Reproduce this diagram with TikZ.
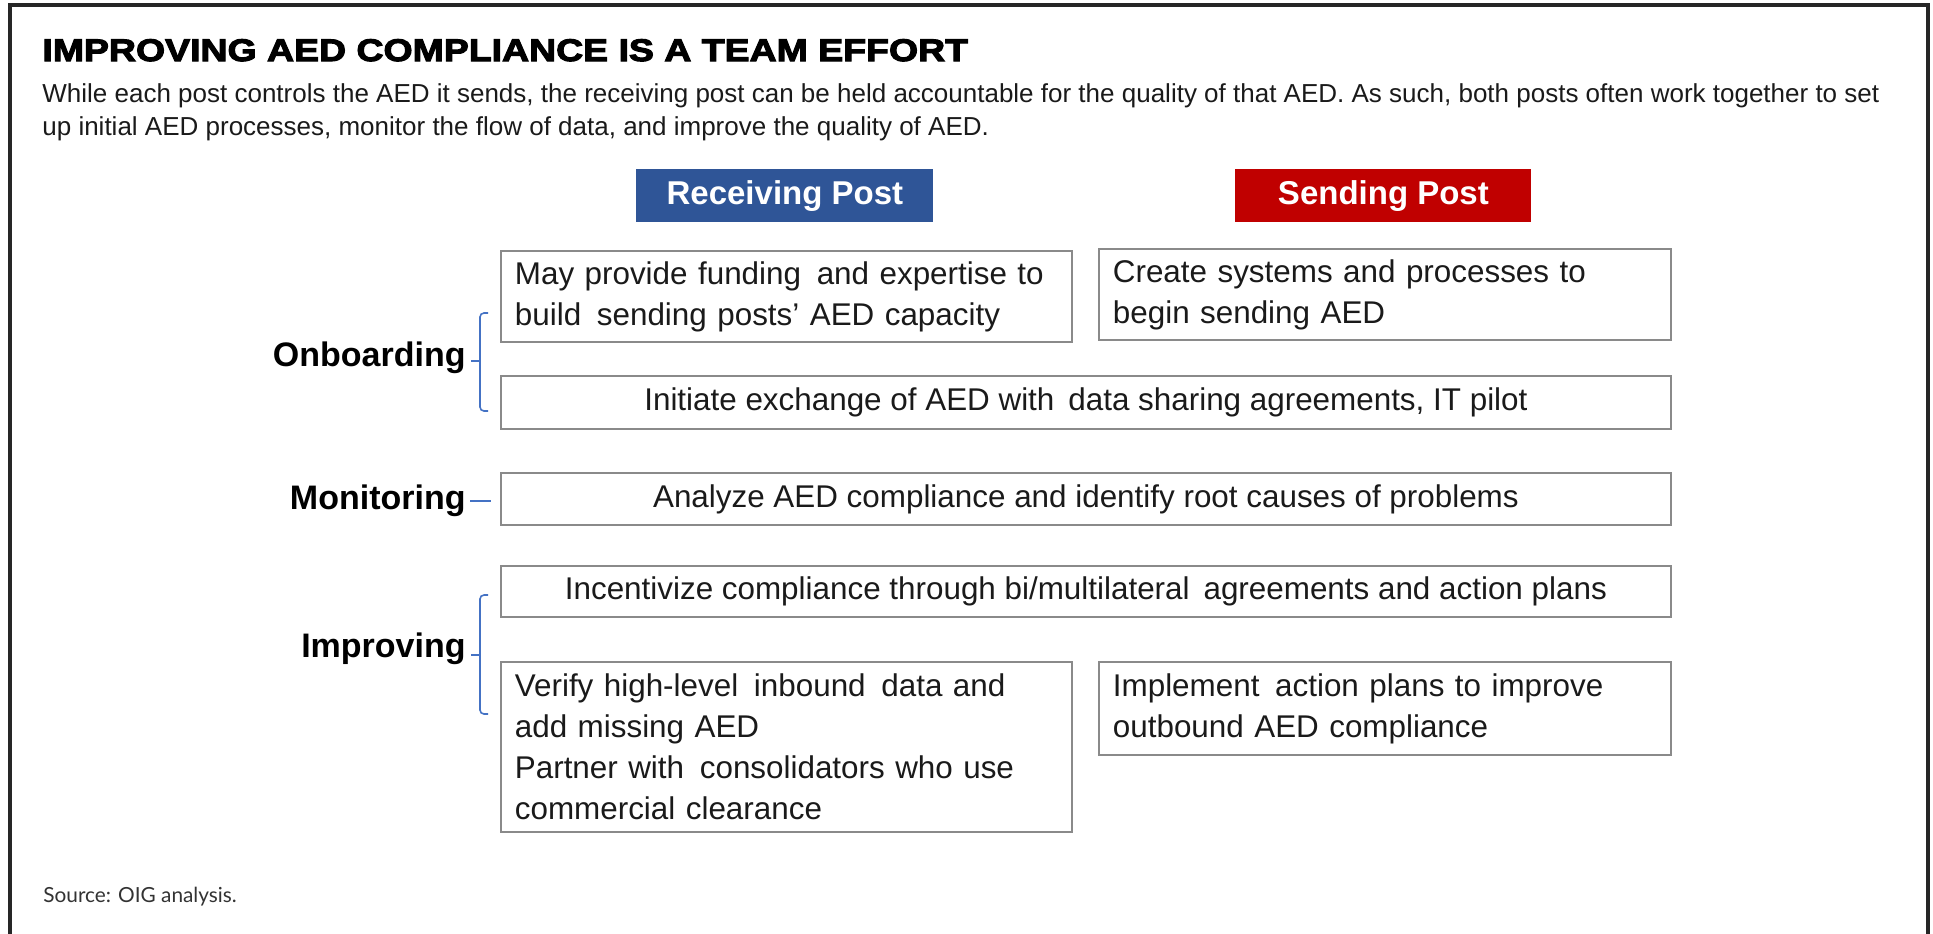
\documentclass[tikz,border=0pt]{standalone}
\usepackage{fontspec}
\setmainfont{Liberation Sans}
\newfontfamily\titlefont{Liberation Sans}[FakeStretch=1.2,BoldFeatures={FakeBold=3.5}]
\newfontfamily\srcfont{Lato}
\definecolor{recblue}{HTML}{2F5597}
\definecolor{sendred}{HTML}{C00000}
\definecolor{brkblue}{HTML}{4472C4}
\definecolor{boxgray}{HTML}{8A8A8A}
\definecolor{txtdark}{HTML}{1A1A1A}
\tikzset{
  frameline/.style={draw=black!85, line width=1.6pt},
  txtbox/.style={draw=boxgray, line width=0.9pt, inner sep=0pt, anchor=north west,
    font=\fontsize{15.7}{20.5}\selectfont, text=txtdark},
  hdrbox/.style={inner sep=0pt, anchor=north west, text=white,
    font=\fontsize{16.5}{20}\selectfont\bfseries, minimum width=148.5pt, minimum height=26.5pt},
  phase/.style={anchor=base east, inner sep=0pt, font=\fontsize{17}{20}\selectfont\bfseries, text=black},
  subline/.style={anchor=base west, inner sep=0pt, text=txtdark, font=\fontsize{13.0}{16.5}\selectfont},
  brk/.style={draw=brkblue, line width=0.8pt, rounded corners=2pt},
}
\begin{document}
\begin{tikzpicture}[x=0.5pt,y=-0.5pt]
\useasboundingbox (0,0) rectangle (1933,933);
\fill[white] (0,0) rectangle (1933,933);
\draw[frameline] (10,945) -- (10,5) -- (1928,5) -- (1928,945);

\node[anchor=base west, inner sep=0pt, font=\titlefont\bfseries\fontsize{15.6}{18}\selectfont] (title) at (42,61)
  {IMPROVING AED COMPLIANCE IS A TEAM EFFORT};
\node[subline] (sub1) at (42,102)
  {While each post controls the AED it sends, the receiving post can be held accountable for the quality of that AED. As such, both posts often work together to set};
\node[subline] (sub2) at (42,135)
  {up initial AED processes, monitor the flow of data, and improve the quality of AED.};

\node[hdrbox, fill=recblue] (rec) at (636,169) {Receiving Post};
\node[hdrbox, fill=sendred, minimum width=148pt] (send) at (1235,169) {Sending Post};

\node[txtbox, minimum width=285.5pt, minimum height=45.5pt, text width=271.5pt, align=left] (a) at (500,250)
  {May provide funding\ \,and expertise to\\build\ \,sending posts’ AED capacity};
\node[txtbox, minimum width=286pt, minimum height=45.5pt, text width=272pt, align=left] (b) at (1098,248)
  {Create systems and processes to\\begin sending AED};
\node[txtbox, minimum width=585pt, minimum height=26.5pt, align=center] (c) at (500,375)
  {Initiate exchange of AED with\ \,data sharing agreements, IT pilot};
\node[txtbox, minimum width=585pt, minimum height=26pt, align=center] (d) at (500,472)
  {Analyze AED compliance and identify root causes of problems};
\node[txtbox, minimum width=585pt, minimum height=25.5pt, align=center] (e) at (500,565)
  {Incentivize compliance through bi/multilateral\ \,agreements and action plans};
\node[txtbox, minimum width=285.5pt, minimum height=85pt, text width=271.5pt, align=left] (f) at (500,661)
  {Verify high-level\ \,inbound\ \,data and\\add missing AED\\Partner with\ \,consolidators who use\\commercial clearance};
\node[txtbox, minimum width=286pt, minimum height=46.5pt, text width=272pt, align=left] (g) at (1098,661)
  {Implement\ \,action plans to improve\\outbound AED compliance};

\node[phase] (onb) at (466,366) {Onboarding};
\node[phase] (mon) at (466,509) {Monitoring};
\node[phase] (imp) at (466,657) {Improving};

\coordinate (ob1) at (488,313);
\coordinate (ob2) at (488,411);
\coordinate (obt) at (471,361);
\draw[brk] (ob1) -| (480,361) |- (ob2);
\draw[brk] (obt) -- (480,361);

\coordinate (mo1) at (470,501);
\coordinate (mo2) at (491,501);
\draw[draw=brkblue, line width=0.8pt] (mo1) -- (mo2);

\coordinate (im1) at (488,595);
\coordinate (im2) at (488,714);
\coordinate (imt) at (471,655);
\draw[brk] (im1) -| (480,655) |- (im2);
\draw[brk] (imt) -- (480,655);

\node[anchor=base west, inner sep=0pt, text=black!80, font=\srcfont\fontsize{10.4}{12}\selectfont] (src) at (43,902)
  {Source: OIG analysis.};
\end{tikzpicture}
\end{document}
